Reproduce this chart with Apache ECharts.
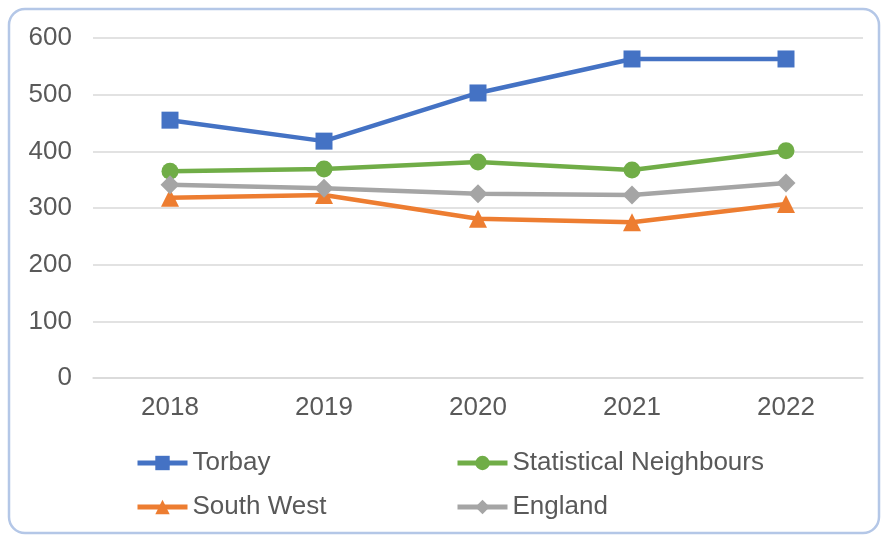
<!DOCTYPE html>
<html><head><meta charset="utf-8">
<script src="https://cdn.jsdelivr.net/npm/echarts@6/dist/echarts.min.js"></script>
<style>html,body{margin:0;padding:0;background:#fff}#c{width:883px;height:536px}</style>
</head><body><div id="c"></div>
<script>
const years = ['2018','2019','2020','2021','2022'];
const torbay = [455, 418, 503, 563, 563];
const statNeighbours = [365, 369, 381, 367, 401];
const southWest = [318, 323, 281, 275, 307];
const england = [341, 335, 325, 323, 344];
const yTicks = [0, 100, 200, 300, 400, 500, 600];

const font = 'Liberation Sans, Arial, sans-serif';
const chart = echarts.init(document.getElementById('c'));
function mkSeries(name, data, color, symbol, size) {
  return {name, type:'line', data, color, symbol, symbolSize:size, showAllSymbol:true,
    lineStyle:{width:4.5, color}, itemStyle:{color}, z: 3};
}
function mkLegend(name, left, top) {
  return {data:[name], left, top, padding:0, itemWidth:50, itemHeight:18, itemGap:0,
    lineStyle:{width:5},
    textStyle:{fontFamily:font, fontSize:26, color:'#595959', lineHeight:30}};
}
chart.setOption({
  animation:false,
  graphic:[{type:'rect', shape:{x:9, y:9, width:870, height:524, r:16},
    style:{fill:'none', stroke:'#B4C7E7', lineWidth:2.5}, z:-1}],
  grid:{left:93, top:38, width:770, height:340},
  xAxis:{type:'category', data:years, boundaryGap:true,
    axisLine:{lineStyle:{color:'#D9D9D9', width:1.5}}, axisTick:{show:false},
    axisLabel:{fontFamily:font, fontSize:26, color:'#595959', margin:17}},
  yAxis:{type:'value', min:yTicks[0], max:yTicks[yTicks.length-1], interval:100,
    axisLine:{show:false}, axisTick:{show:false},
    splitLine:{lineStyle:{color:'#D9D9D9', width:1.5}},
    axisLabel:{fontFamily:font, fontSize:26, color:'#595959', margin:21}},
  legend:[mkLegend('Torbay',135,448), mkLegend('Statistical Neighbours',455,448),
          mkLegend('South West',135,492), mkLegend('England',455,492)],
  series:[
    mkSeries('Torbay', torbay, '#4472C4', 'rect', 17),
    mkSeries('Statistical Neighbours', statNeighbours, '#70AD47', 'circle', 17),
    mkSeries('South West', southWest, '#ED7D31', 'triangle', 18),
    mkSeries('England', england, '#A5A5A5', 'diamond', 19)
  ]
});
</script></body></html>
